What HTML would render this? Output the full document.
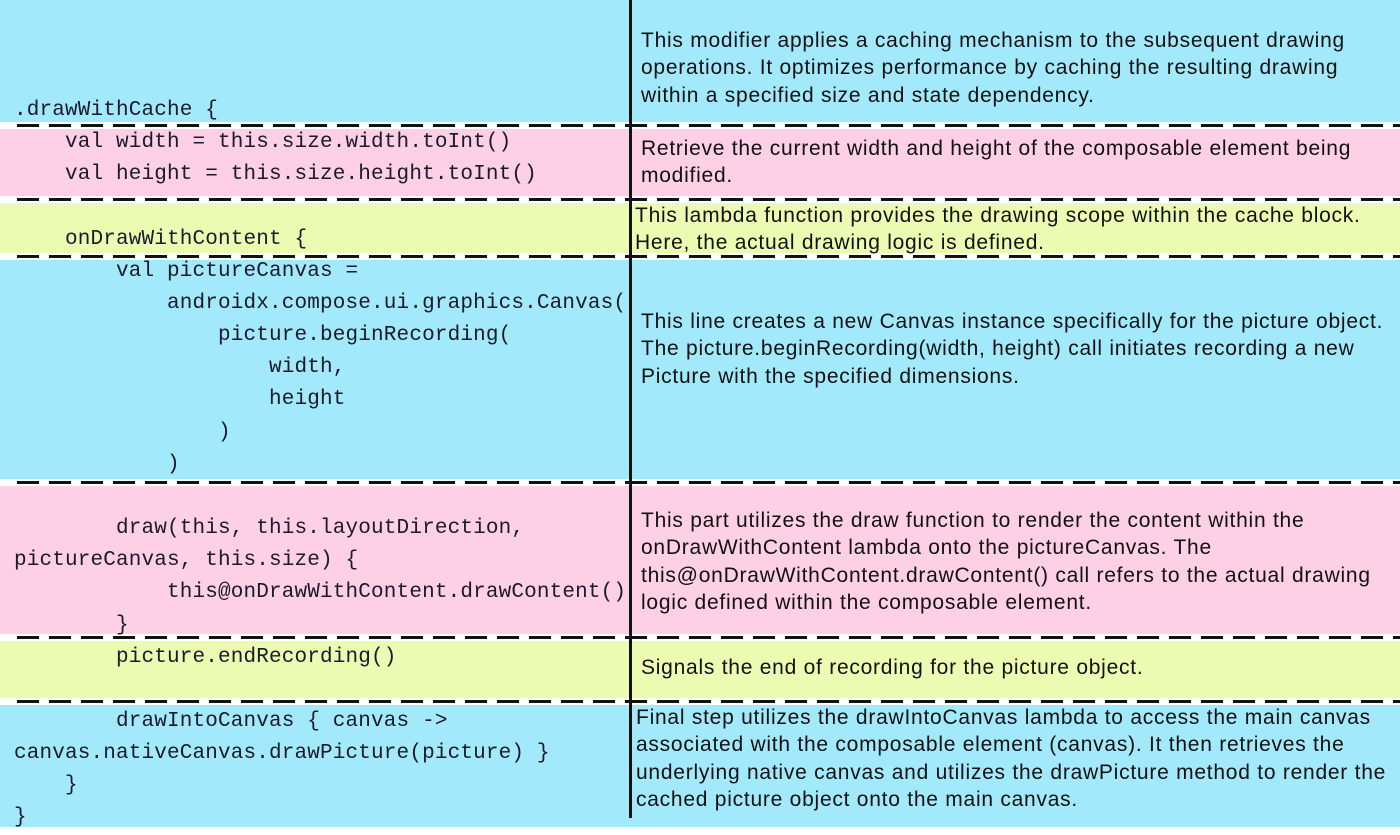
<!DOCTYPE html>
<html><head><style>
body{margin:0;width:1400px;height:827px;position:relative;overflow:hidden;font-family:"Liberation Sans",sans-serif}
.bg{position:absolute;left:0;width:1400px}
.b{background:#a3e9fc}.p{background:#fdd0e5}.y{background:#ebfcb2}
.dash{position:absolute;left:0;width:1400px;height:7px;background:#fff}
.dash:after{content:"";position:absolute;left:17px;right:0;top:2px;height:3px;background:repeating-linear-gradient(90deg,#111 0 22px,transparent 22px 32px)}
.c{position:absolute;left:14px;font-family:"Liberation Mono",monospace;font-size:21px;letter-spacing:0.15px;color:#1a1a2a;white-space:pre;line-height:32.15px}
.t{position:absolute;left:641px;font-size:21px;letter-spacing:0.75px;color:#111;white-space:nowrap;line-height:27.3px}
.v{position:absolute;left:629px;top:0;width:3px;height:818px;background:#111}
</style></head><body>
<div class="bg b" style="top:0;height:125px"></div>
<div class="bg p" style="top:125px;height:74px"></div>
<div class="bg y" style="top:199px;height:57px"></div>
<div class="bg b" style="top:256px;height:226px"></div>
<div class="bg p" style="top:482px;height:155px"></div>
<div class="bg y" style="top:637px;height:64px"></div>
<div class="bg b" style="top:701px;height:126px"></div>
<div class="dash" style="top:122px"></div>
<div class="dash" style="top:196px"></div>
<div class="dash" style="top:253px"></div>
<div class="dash" style="top:479px"></div>
<div class="dash" style="top:634px"></div>
<div class="dash" style="top:698px"></div>
<div class="v"></div>
<div class="c" style="top:95px">.drawWithCache {
    val width = this.size.width.toInt()
    val height = this.size.height.toInt()

    onDrawWithContent {
        val pictureCanvas =
            androidx.compose.ui.graphics.Canvas(
                picture.beginRecording(
                    width,
                    height
                )
            )

        draw(this, this.layoutDirection,
pictureCanvas, this.size) {
            this@onDrawWithContent.drawContent()
        }
        picture.endRecording()

        drawIntoCanvas { canvas -&gt;
canvas.nativeCanvas.drawPicture(picture) }
    }
}</div>
<div class="t" style="top:27px">This modifier applies a caching mechanism to the subsequent drawing<br>operations. It optimizes performance by caching the resulting drawing<br>within a specified size and state dependency.</div>
<div class="t" style="top:135px">Retrieve the current width and height of the composable element being<br>modified.</div>
<div class="t" style="top:202px;left:635px">This lambda function provides the drawing scope within the cache block.<br>Here, the actual drawing logic is defined.</div>
<div class="t" style="top:308px">This line creates a new Canvas instance specifically for the picture object.<br>The picture.beginRecording(width, height) call initiates recording a new<br>Picture with the specified dimensions.</div>
<div class="t" style="top:507px">This part utilizes the draw function to render the content within the<br>onDrawWithContent lambda onto the pictureCanvas. The<br>this@onDrawWithContent.drawContent() call refers to the actual drawing<br>logic defined within the composable element.</div>
<div class="t" style="top:654px">Signals the end of recording for the picture object.</div>
<div class="t" style="top:704px;left:636px">Final step utilizes the drawIntoCanvas lambda to access the main canvas<br>associated with the composable element (canvas). It then retrieves the<br>underlying native canvas and utilizes the drawPicture method to render the<br>cached picture object onto the main canvas.</div>
</body></html>
